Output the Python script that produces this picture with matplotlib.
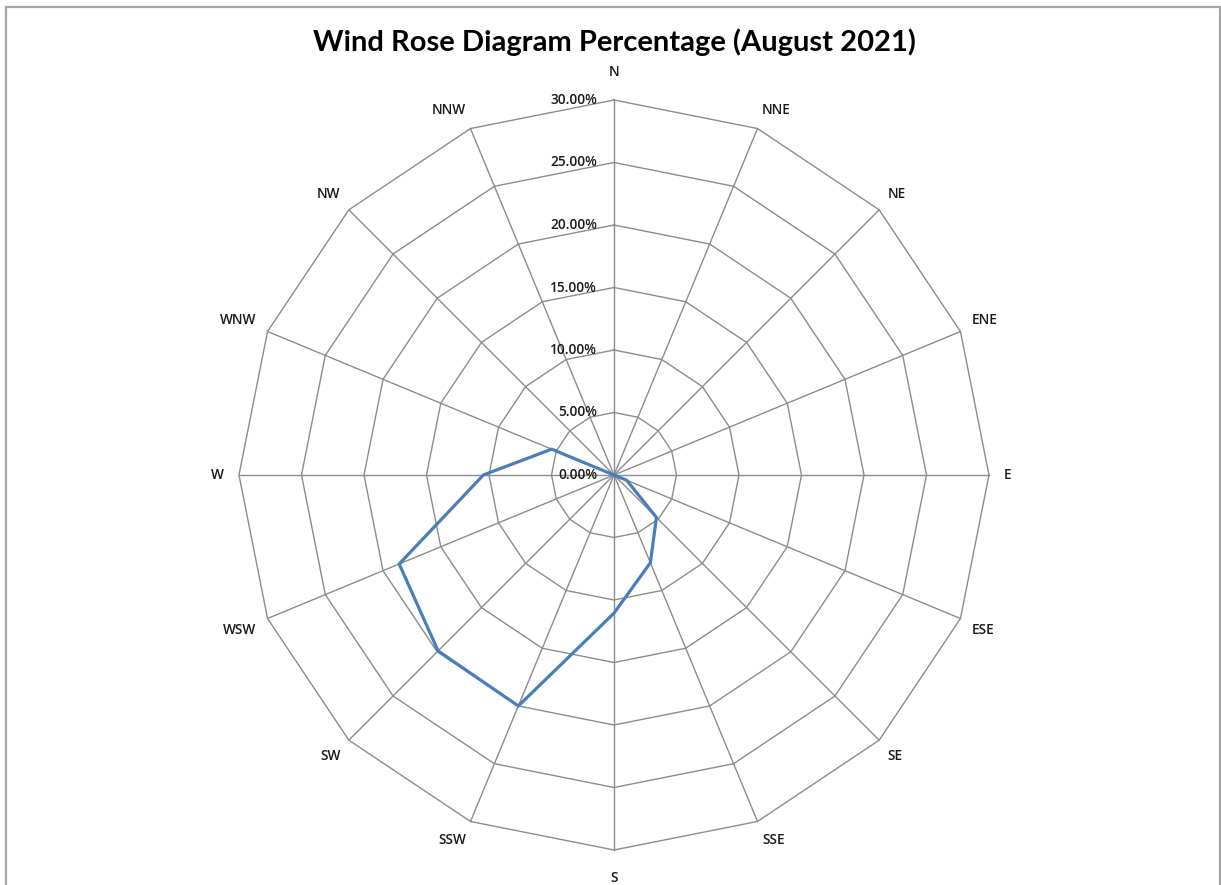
import numpy as np
import matplotlib
matplotlib.use("Agg")
import matplotlib.pyplot as plt
import matplotlib.transforms as mtrans
from matplotlib.patches import Rectangle

# Data
directions = ["N", "NNE", "NE", "ENE", "E", "ESE", "SE", "SSE",
              "S", "SSW", "SW", "WSW", "W", "WNW", "NW", "NNW"]
percent = [0.0, 0.0, 0.0, 0.0, 0.0, 1.1, 4.8, 7.6,
           11.05, 20.0, 19.9, 18.6, 10.45, 5.4, 0.0, 0.0]
levels = [0, 5, 10, 15, 20, 25, 30]
level_labels = ["0.00%", "5.00%", "10.00%", "15.00%", "20.00%", "25.00%", "30.00%"]

W, H = 1221, 885
fig = plt.figure(figsize=(W / 100, H / 100), dpi=100)
fig.patch.set_facecolor("white")

# border of chart area
fig.patches.append(Rectangle((6 / W, -0.05), (1220 - 6) / W, 1.05 - 7.5 / H,
                             transform=fig.transFigure, fill=False,
                             edgecolor="#a6a6a6", linewidth=1.6))

cx, cy, R = 614, 475, 375
ax = fig.add_axes([(cx - R) / W, (H - cy - R) / H, 2 * R / W, 2 * R / H],
                  projection="polar")
ax.set_theta_zero_location("N")
ax.set_theta_direction(-1)
ax.set_ylim(0, 30)

theta = np.deg2rad(np.arange(len(directions)) * 22.5)

# polygon grid
ax.grid(False)
ax.spines["polar"].set_visible(False)
ax.set_xticks([])
ax.set_yticks([])
ax.patch.set_alpha(0)
grid_c = "#8c8c8c"
for lv in levels[1:]:
    tt = np.append(theta, theta[0])
    ax.plot(tt, [lv] * len(tt), color=grid_c, lw=1.0, zorder=1, clip_on=False)
for t in theta:
    ax.plot([t, t], [0, levels[-1]], color=grid_c, lw=1.0, zorder=1, clip_on=False)

# data line
tt = np.append(theta, theta[0])
vv = np.append(percent, percent[0])
ax.plot(tt, vv, color="#4a7ebb", lw=2.3, zorder=3, clip_on=False,
        solid_joinstyle="miter")

small_font = "Open Sans"
# radial labels
off = mtrans.offset_copy(ax.transData, fig=fig, x=-17, y=0, units="dots")
for lv, lab in zip(levels, level_labels):
    ax.text(0, lv, lab, transform=off, ha="right", va="center",
            fontsize=9.8, fontweight="semibold", color="#1a1a1a",
            family=small_font)

# direction labels
for t, d in zip(theta, directions):
    s, c = np.sin(t), np.cos(t)
    ha = "left" if s > 0.1 else ("right" if s < -0.1 else "center")
    va = "bottom" if c > 0.1 else ("top" if c < -0.1 else "center")
    if ha == "center":
        g = 21
    elif va == "center":
        g = 15
    else:
        g = 12
    tr = mtrans.offset_copy(ax.transData, fig=fig, x=g * s, y=g * c, units="dots")
    ax.text(t, levels[-1], d, transform=tr, ha=ha, va=va, fontsize=9.8,
            fontweight="semibold", color="#1a1a1a", family=small_font)

fig.text(cx / W, 1 - 42 / H, "Wind Rose Diagram Percentage (August 2021)",
         ha="center", va="center", fontsize=21, fontweight="bold",
         family="Lato", color="black")

fig.savefig("out.png", dpi=100)
